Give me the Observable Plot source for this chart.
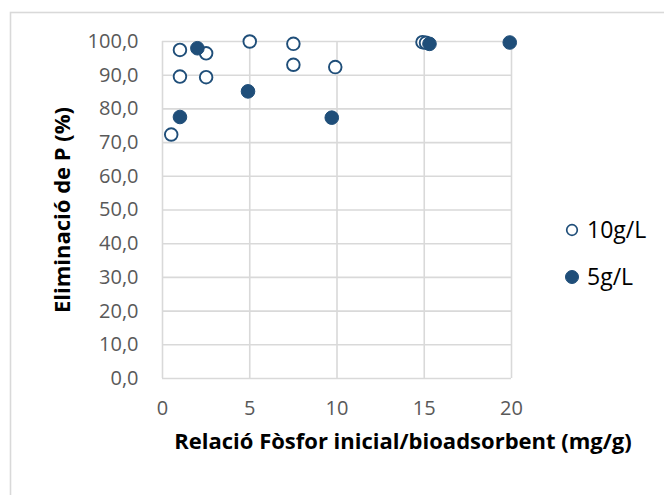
<!DOCTYPE html>
<html>
<head>
<meta charset="utf-8">
<script src="https://cdn.jsdelivr.net/npm/d3@7"></script>
<script src="https://cdn.jsdelivr.net/npm/@observablehq/plot@0.6"></script>
<style>
  html, body { margin: 0; padding: 0; background: #fff; overflow: hidden; }
  #chart { position: relative; width: 664px; height: 495px; }
</style>
</head>
<body>
<div id="chart"></div>
<script>
// Phosphorus removal vs. initial phosphorus / bioadsorbent ratio
const seriesNames = ["10g/L", "5g/L"];

// 10 g/L bioadsorbent dose (open markers)
const ratio10 = [0.5, 1.0, 1.0, 2.5, 2.5, 5.0, 7.5, 7.5, 9.9, 14.9, 15.1];
const removal10 = [72.4, 97.5, 89.6, 96.5, 89.4, 100.0, 99.3, 93.1, 92.4, 99.8, 99.6];

// 5 g/L bioadsorbent dose (filled markers)
const ratio5 = [1.0, 2.0, 4.9, 9.7, 15.3, 19.9];
const removal5 = [77.6, 98.0, 85.2, 77.4, 99.3, 99.7];

const xTicks = [0, 5, 10, 15, 20];
const yTicks = [0, 10, 20, 30, 40, 50, 60, 70, 80, 90, 100];

const xLabel = "Relació Fòsfor inicial/bioadsorbent (mg/g)";
const yLabel = "Eliminació de P (%)";

const navy = "#1F4E79";
const gridColor = "#d9d9d9";
const font = "'Open Sans', sans-serif";

const rows = [
  ...ratio10.map((x, i) => ({ x, y: removal10[i], s: seriesNames[0] })),
  ...ratio5.map((x, i) => ({ x, y: removal5[i], s: seriesNames[1] }))
];

const W = 664, H = 495;
const plot = Plot.plot({
  width: W,
  height: H,
  marginLeft: 162,
  marginRight: 153,
  marginTop: 41,
  marginBottom: 117,
  style: { fontFamily: font, background: "transparent", overflow: "visible" },
  x: { domain: [0, 20] },
  y: { domain: [0, 100] },
  marks: [
    Plot.ruleX(xTicks, { stroke: gridColor, strokeWidth: 1.6 }),
    Plot.ruleY(yTicks, { stroke: gridColor, strokeWidth: 1.6 }),
    Plot.axisX({
      ticks: xTicks, tickSize: 0, tickPadding: 22, label: null,
      fontSize: 20, fill: "#595959", tickFormat: d => String(d)
    }),
    Plot.axisY({
      ticks: yTicks, tickSize: 0, tickPadding: 24, label: null,
      fontSize: 20, fill: "#595959",
      tickFormat: d => d.toFixed(1).replace(".", ",")
    }),
    Plot.dot(rows.filter(d => d.s === seriesNames[0]), {
      x: "x", y: "y", r: 6.3, stroke: navy, strokeWidth: 1.9, fill: "#fff"
    }),
    Plot.dot(rows.filter(d => d.s === seriesNames[1]), {
      x: "x", y: "y", r: 6.8, fill: navy, stroke: navy, strokeWidth: 1
    })
  ]
});

const svg = d3.select(plot);

// outer chart-area border
svg.insert("rect", ":first-child")
  .attr("x", 10.5).attr("y", 12.5)
  .attr("width", W + 20).attr("height", H + 20)
  .attr("fill", "none").attr("stroke", gridColor).attr("stroke-width", 1.6);

// axis titles
svg.append("text")
  .attr("x", 403).attr("y", 449)
  .attr("text-anchor", "middle")
  .attr("font-family", font).attr("font-weight", "bold").attr("font-size", 22)
  .attr("fill", "#000")
  .text(xLabel);

svg.append("text")
  .attr("transform", "translate(70,210) rotate(-90)")
  .attr("text-anchor", "middle")
  .attr("font-family", font).attr("font-weight", "bold").attr("font-size", 22)
  .attr("fill", "#000")
  .text(yLabel);

// legend
const legend = svg.append("g")
  .attr("font-family", font).attr("font-size", 23).attr("text-anchor", "start");
seriesNames.forEach((name, i) => {
  const cy = 230 + i * 47;
  legend.append("circle")
    .attr("cx", 572).attr("cy", cy).attr("r", i === 0 ? 5.3 : 6.5)
    .attr("fill", i === 0 ? "#fff" : navy)
    .attr("stroke", navy).attr("stroke-width", i === 0 ? 1.7 : 1);
  legend.append("text")
    .attr("x", 587).attr("y", cy).attr("dy", "0.35em")
    .attr("fill", "#000")
    .text(name);
});

document.getElementById("chart").appendChild(plot);
</script>
</body>
</html>
